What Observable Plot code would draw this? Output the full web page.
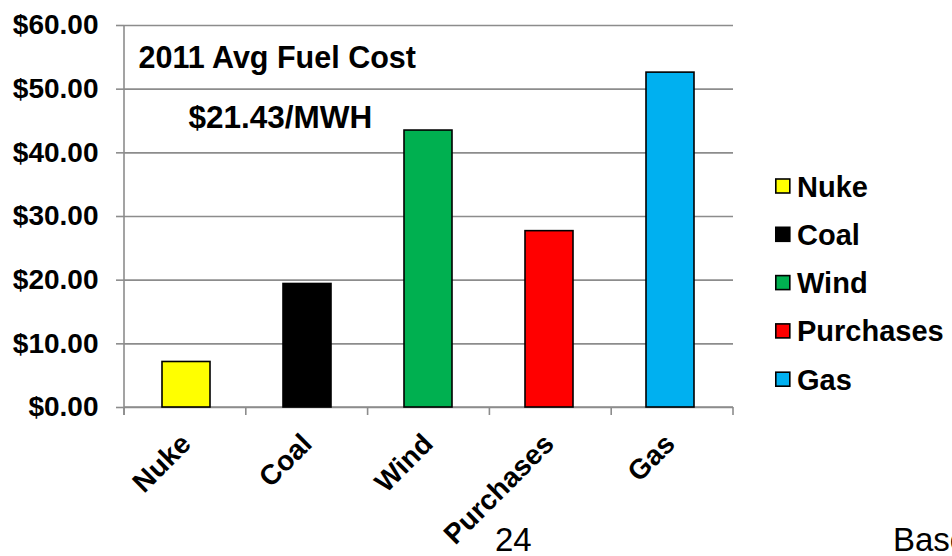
<!DOCTYPE html>
<html>
<head>
<meta charset="utf-8">
<script src="https://cdn.jsdelivr.net/npm/d3@7"></script>
<script src="https://cdn.jsdelivr.net/npm/@observablehq/plot@0.6"></script>
<style>
  html, body { margin: 0; padding: 0; background: #fff; }
  #wrap { position: relative; width: 952px; height: 556px; overflow: hidden; }
</style>
</head>
<body>
<div id="wrap"></div>
<script>
const categories = ["Nuke", "Coal", "Wind", "Purchases", "Gas"];
const values = [7.15, 19.4, 43.5, 27.7, 52.6];
const colors = ["#ffff00", "#000000", "#00b050", "#ff0000", "#00b0f0"];
const yTicks = [0, 10, 20, 30, 40, 50, 60];
const annotations = ["2011 Avg Fuel Cost", "$21.43/MWH"];
const footer = ["24", "Based"];

const FONT = "Liberation Sans, Arial, sans-serif";
const data = categories.map((c, i) => ({category: c, value: values[i]}));

const chart = Plot.plot({
  width: 952,
  height: 556,
  marginLeft: 124,
  marginRight: 219,
  marginTop: 25,
  marginBottom: 149,
  style: {fontFamily: FONT, background: "white", overflow: "visible"},
  x: {domain: categories, paddingInner: 0.6, paddingOuter: 0.3, label: null, axis: null},
  y: {domain: [0, 60], label: null},
  color: {domain: categories, range: colors},
  marks: [
    Plot.ruleY(yTicks, {stroke: "#8c8c8c", strokeWidth: 1.6}),
    Plot.axisY({
      ticks: yTicks,
      tickFormat: d => "$" + d3.format(".2f")(d),
      tickSize: 8,
      tickPadding: 18,
      stroke: "#8c8c8c",
      strokeWidth: 1.6,
      strokeOpacity: 1,
      fontSize: 28,
      fontWeight: "bold",
      fill: "#000",
      label: null
    }),
    Plot.text(categories, {
      x: d => d,
      y: () => 0,
      rotate: -45,
      textAnchor: "end",
      lineAnchor: "bottom",
      dx: 6,
      dy: 38,
      fontSize: 28,
      fontWeight: "bold",
      fill: "#000"
    }),
    Plot.barY(data, {x: "category", y: "value", fill: "category", stroke: "#000", strokeWidth: 1.6}),
    Plot.text([annotations[0]], {frameAnchor: "top-left", dx: 14, dy: 42, lineAnchor: "bottom", fontSize: 30.5, fontWeight: "bold", fill: "#000", textAnchor: "start"}),
    Plot.text([annotations[1]], {frameAnchor: "top-left", dx: 64, dy: 102, lineAnchor: "bottom", fontSize: 31.5, fontWeight: "bold", fill: "#000", textAnchor: "start"})
  ]
});

// axis frame lines and band-boundary ticks, placed with the chart's scales
const xs = chart.scale("x"), ys = chart.scale("y");
const svg = d3.select(chart);
const y0 = ys.apply(0), yTop = ys.apply(60);
const [rx0, rx1] = xs.range;
const step = (rx1 - rx0) / categories.length;
const g = svg.append("g").attr("stroke", "#8c8c8c").attr("stroke-width", 1.6);
g.append("line").attr("x1", rx0).attr("x2", rx0).attr("y1", yTop).attr("y2", y0 + 8);
g.append("line").attr("x1", rx0).attr("x2", rx1).attr("y1", y0).attr("y2", y0);
for (let i = 0; i <= categories.length; i++) {
  const xx = rx0 + i * step;
  g.append("line").attr("x1", xx).attr("x2", xx).attr("y1", y0).attr("y2", y0 + 8);
}
svg.selectAll("g[aria-label='bar']").raise();

// legend
const legendX = 775, legendY0 = 186, legendStep = 48.3;
const lg = svg.append("g").attr("font-family", FONT).attr("font-weight", "bold").attr("font-size", 29).attr("text-anchor", "start");
categories.forEach((c, i) => {
  const cy = legendY0 + i * legendStep;
  lg.append("rect").attr("x", legendX + 0.8).attr("y", cy - 7).attr("width", 14).attr("height", 14)
    .attr("fill", colors[i]).attr("stroke", "#000").attr("stroke-width", 1.6);
  lg.append("text").attr("x", 797).attr("y", cy + 10.5).attr("fill", "#000").text(c);
});

// page footer texts
const ft = svg.append("g").attr("font-family", "Liberation Sans Narrow, Arial Narrow, " + FONT).attr("font-size", 33).attr("fill", "#000").attr("text-anchor", "start");
ft.append("text").attr("x", 495).attr("y", 551).text(footer[0]);
ft.append("text").attr("x", 893).attr("y", 551).text(footer[1]);

document.getElementById("wrap").appendChild(chart);
</script>
</body>
</html>
